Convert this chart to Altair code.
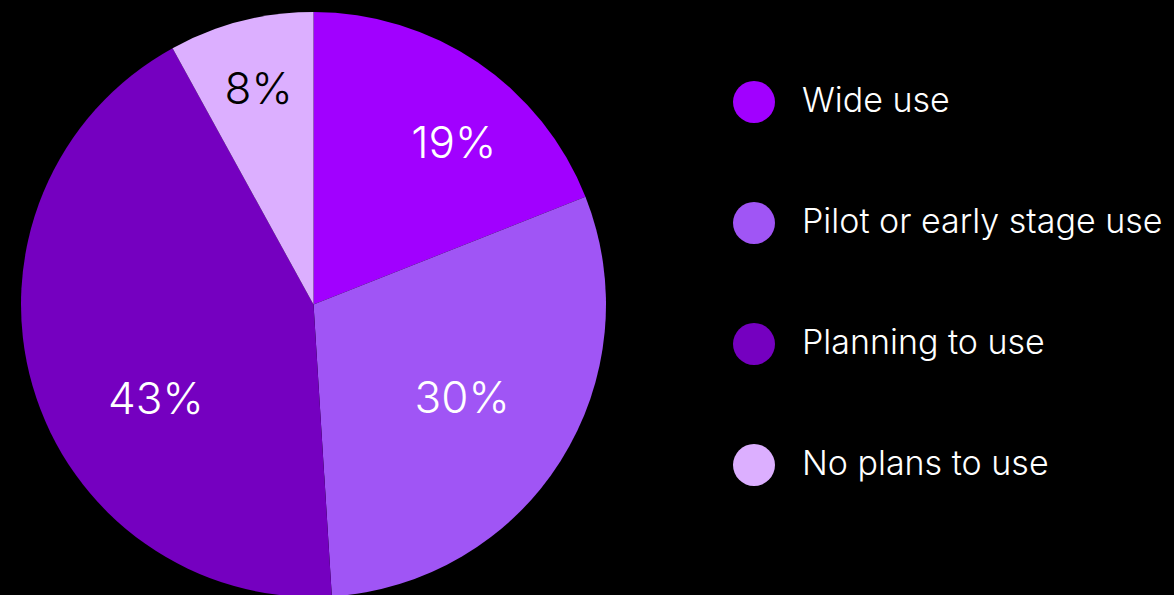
import altair as alt
import pandas as pd

# Survey shares by adoption stage
categories = ["Wide use", "Pilot or early stage use", "Planning to use", "No plans to use"]
shares = [19, 30, 43, 8]
labels = ["19%", "30%", "43%", "8%"]
colors = ["#A100FF", "#A055F5", "#7500C0", "#DCAFFF"]
label_colors = ["#FFFFFF", "#FFFFFF", "#FFFFFF", "#000000"]

df = pd.DataFrame({
    "stage": categories,
    "share": shares,
    "label": labels,
    "order": list(range(len(categories))),
    "tcolor": label_colors,
})

CX, CY, R = 313.5, 304.5, 292.5
FONT = "Inter"
WEIGHT = 300
total = sum(shares)

pie = alt.Chart(df).mark_arc(outerRadius=R, stroke=None).encode(
    theta=alt.Theta("share:Q", stack=True),
    order=alt.Order("order:Q", sort="ascending"),
    x=alt.value(CX),
    y=alt.value(CY),
    color=alt.Color(
        "stage:N",
        scale=alt.Scale(domain=categories, range=colors),
        sort=categories,
        legend=alt.Legend(
            title=None,
            orient="none",
            legendX=733,
            legendY=81,
            symbolType="circle",
            symbolSize=1764,
            symbolStrokeWidth=0,
            symbolOpacity=1,
            labelFontSize=34,
            labelFont=FONT,
            labelFontWeight=WEIGHT,
            labelColor="#FFFFFF",
            labelOffset=27,
            rowPadding=79,
            padding=0,
            labelLimit=500,
        ),
    ),
)

# Label angle = middle of each slice, computed before splitting into layers
label_base = alt.Chart(df).transform_window(
    cum="sum(share)", sort=[alt.SortField("order")], frame=[None, 0]
).transform_calculate(
    mid="datum.cum - datum.share / 2"
)

# Per-slice label placement: (radius, dx, dy)
placement = {
    "Wide use": (214, 20, 17),
    "Pilot or early stage use": (176, 0, 1),
    "Planning to use": (185, 20, 45),
    "No plans to use": (221, 0, 1),
}

text_layers = []
for stage, (rad, dx, dy) in placement.items():
    text_layers.append(
        label_base.transform_filter(alt.datum.stage == stage).mark_text(
            radius=rad, dx=dx, dy=dy, fontSize=44, font=FONT, fontWeight=WEIGHT,
            align="center", baseline="middle",
        ).encode(
            theta=alt.Theta("mid:Q", stack=None, scale=alt.Scale(domain=[0, total])),
            x=alt.value(CX),
            y=alt.value(CY),
            text="label:N",
            color=alt.Color("tcolor:N", scale=None),
        )
    )

chart = alt.layer(pie, *text_layers).properties(
    width=1174,
    height=595,
    background="#000000",
    padding=0,
    autosize=alt.AutoSizeParams(type="none"),
).configure_view(stroke=None)

chart.save("out.html", embed_options={"renderer": "svg", "actions": False})
